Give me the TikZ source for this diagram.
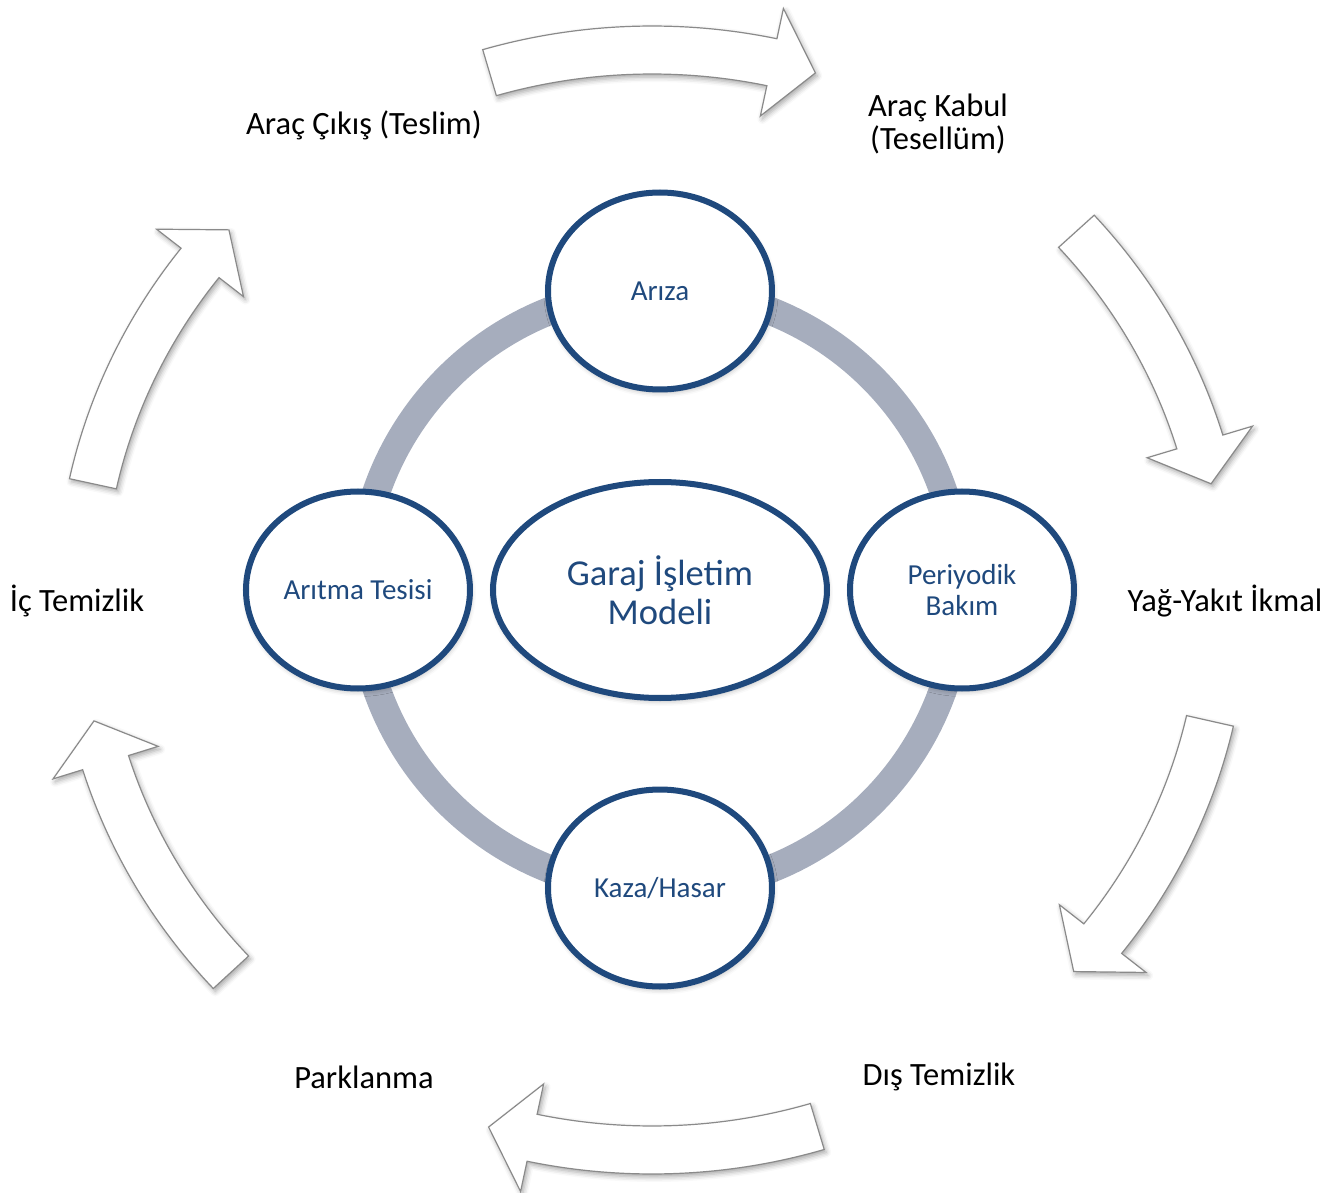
\documentclass[tikz,border=0pt]{standalone}
\usepackage{fontspec}
\setmainfont{Carlito}
\usetikzlibrary{shapes.geometric,shadows.blur}

\definecolor{navy}{HTML}{1F497D}
\definecolor{ringgray}{HTML}{A6ADBD}
\definecolor{edgegray}{HTML}{8A8A8A}

\begin{document}
\begin{tikzpicture}[x=1pt,y=1pt,
  stage/.style={ellipse, draw=navy, line width=6pt, fill=white, inner sep=0pt,
    minimum width=224pt, minimum height=197pt, text=navy, align=center,
    font=\fontsize{29}{31}\selectfont,
    blur shadow={shadow xshift=1pt, shadow yshift=-3pt, shadow blur radius=5pt, shadow opacity=30}},
  hub/.style={stage, minimum width=334pt, minimum height=216pt,
    font=\fontsize{36.5}{39}\selectfont},
  steplabel/.style={text=black, align=center, font=\fontsize{32.5}{33}\selectfont},
  flowarrow/.style={draw=edgegray, line width=1.2pt, fill=white, line join=miter,
    blur shadow={shadow xshift=2pt, shadow yshift=-3pt, shadow blur radius=5pt, shadow opacity=35}},
]
\useasboundingbox (-660,-592) rectangle (682,600);

% connecting ring behind the inner stages
\draw[ringgray, line width=28pt] (0,10) circle[radius=300];

% inner stages
\node[hub]   (hub)    at (0,10)    {Garaj İşletim\\Modeli};
\node[stage] (ariza)  at (0,309)   {Arıza};
\node[stage] (kaza)   at (0,-288)  {Kaza/Hasar};
\node[stage] (aritma) at (-302,10) {Arıtma Tesisi};
\node[stage] (bakim)  at (302,10)  {Periyodik\\Bakım};

% outer process steps
\node[steplabel] (cikis)  at (-296,475) {Araç Çıkış (Teslim)};
\node[steplabel] (kabul)  at (278,476)  {Araç Kabul\\(Tesellüm)};
\node[steplabel] (ikmal)  at (565,-1)   {Yağ-Yakıt İkmal};
\node[steplabel] (distem) at (279,-477) {Dış Temizlik};
\node[steplabel] (park)   at (-296,-477){Parklanma};
\node[steplabel] (ictem)  at (-583,-1)  {İç Temizlik};

% clockwise block arrows between the outer steps
\begin{scope}[shift={(-8,0)}]
\foreach \a/\b in {106.5/73.4, 42.1/12.2, -12.7/-42.5, -73.2/-106.6, -137.4/-167.3, 167.8/137.7}{
  \pgfmathsetmacro\h{\b+4.5}
  \draw[flowarrow] (\a:596 and 574)
    arc[start angle=\a, end angle=\h, x radius=596, y radius=574]
    -- (\h:627 and 605) -- (\b:572 and 550) -- (\h:517 and 495) -- (\h:548 and 526)
    arc[start angle=\h, end angle=\a, x radius=548, y radius=526] -- cycle;
}
\end{scope}
\end{tikzpicture}
\end{document}
